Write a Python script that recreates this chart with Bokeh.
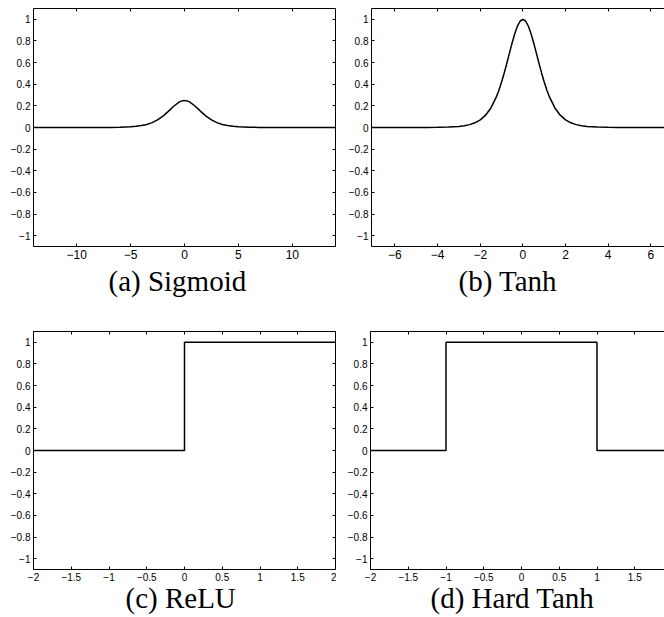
from bokeh.plotting import figure
from bokeh.models import LinearAxis, Range1d, FixedTicker, Title, CustomLabelingPolicy
from bokeh.layouts import column, row
from bokeh.embed import file_html
from bokeh.resources import INLINE

# ---------------- data ----------------
sig_x = [-14, -12, -10, -8, -7, -6, -5, -4.5, -4, -3.5, -3, -2.5, -2, -1.5, -1, -0.5, -0.25,
         0, 0.25, 0.5, 1, 1.5, 2, 2.5, 3, 3.5, 4, 4.5, 5, 6, 7, 8, 10, 12, 14]
sig_y = [0.0, 0.0, 0.0001, 0.0003, 0.0009, 0.0025, 0.0066, 0.0109, 0.0177, 0.0285, 0.0452, 0.0701,
         0.1050, 0.1491, 0.1966, 0.2350, 0.2461,
         0.25, 0.2461, 0.2350, 0.1966, 0.1491, 0.1050, 0.0701, 0.0452, 0.0285, 0.0177, 0.0109,
         0.0066, 0.0025, 0.0009, 0.0003, 0.0001, 0.0, 0.0]

tanh_x = [-7.1, -6, -5, -4.5, -4, -3.5, -3, -2.75, -2.5, -2.25, -2, -1.75, -1.5, -1.25, -1.125, -1,
          -0.875, -0.75, -0.625, -0.5, -0.375, -0.25, -0.125, 0,
          0.125, 0.25, 0.375, 0.5, 0.625, 0.75, 0.875, 1, 1.125, 1.25, 1.5, 1.75, 2, 2.25, 2.5,
          2.75, 3, 3.5, 4, 4.5, 5, 6, 7.1]
tanh_y = [0.0, 0.0, 0.0002, 0.0005, 0.0013, 0.0036, 0.0099, 0.0162, 0.0266, 0.0435, 0.0707, 0.1138,
          0.1807, 0.2804, 0.3445, 0.4200, 0.5045, 0.5966, 0.6924, 0.7864, 0.8716, 0.9400, 0.9845, 1.0,
          0.9845, 0.9400, 0.8716, 0.7864, 0.6924, 0.5966, 0.5045, 0.4200, 0.3445, 0.2804, 0.1807,
          0.1138, 0.0707, 0.0435, 0.0266, 0.0162, 0.0099, 0.0036, 0.0013, 0.0005, 0.0002, 0.0, 0.0]

relu_x = [-2, 0, 0, 2]
relu_y = [0, 0, 1, 1]

htanh_x = [-2, -1, -1, 1, 1, 2]
htanh_y = [0, 0, 1, 1, 0, 0]

y_ticks = [-1, -0.8, -0.6, -0.4, -0.2, 0, 0.2, 0.4, 0.6, 0.8, 1]
y_labels = ["\u22121", "\u22120.8", "\u22120.6", "\u22120.4", "\u22120.2", "0", "0.2", "0.4", "0.6", "0.8", "1"]

sig_ticks = [-10, -5, 0, 5, 10]
sig_labels = ["\u221210", "\u22125", "0", "5", "10"]

tanh_ticks = [-6, -4, -2, 0, 2, 4, 6]
tanh_labels = ["\u22126", "\u22124", "\u22122", "0", "2", "4", "6"]

step_ticks = [-2, -1.5, -1, -0.5, 0, 0.5, 1, 1.5, 2]
step_labels = ["\u22122", "\u22121.5", "\u22121", "\u22120.5", "0", "0.5", "1", "1.5", "2"]

captions = ["(a) Sigmoid", "(b) Tanh", "(c) ReLU", "(d) Hard Tanh"]

FONT = "Liberation Sans"
SERIF = "Liberation Serif"


def style_axis(ax, font_size, labels=True):
    ax.major_tick_in = 3
    ax.major_tick_out = 0
    ax.minor_tick_line_color = None
    ax.axis_line_color = "black"
    ax.axis_line_width = 1
    ax.major_tick_line_color = "black"
    if labels:
        ax.major_label_text_font = FONT
        ax.major_label_text_font_size = font_size
        ax.major_label_text_color = "black"
        ax.major_label_standoff = 3
    else:
        ax.major_label_text_font_size = "0px"
        ax.major_label_standoff = 0
        ax.major_label_policy = CustomLabelingPolicy(
            code="for (const i of indices) { if (false) { yield i } }")


def panel(xs, ys, xr, xt, xl, xfont, caption, width, height, mb_left, mb_right, mb_top,
          mb_bottom, right_axis, cap_standoff, cap_offset):
    p = figure(width=width, height=height, x_range=Range1d(*xr), y_range=Range1d(-1.1, 1.1),
               output_backend="svg", toolbar_location=None, title=None,
               x_axis_location=None, y_axis_location=None,
               min_border_left=mb_left, min_border_right=mb_right,
               min_border_top=mb_top, min_border_bottom=mb_bottom,
               outline_line_color=None, background_fill_color="white",
               border_fill_color="white")
    p.xgrid.grid_line_color = None
    p.ygrid.grid_line_color = None

    left = LinearAxis(ticker=FixedTicker(ticks=y_ticks),
                      major_label_overrides=dict(zip(y_ticks, y_labels)))
    style_axis(left, "10px")
    p.add_layout(left, "left")

    below = LinearAxis(ticker=FixedTicker(ticks=xt), major_label_overrides=dict(zip(xt, xl)))
    style_axis(below, xfont)
    p.add_layout(below, "below")

    above = LinearAxis(ticker=FixedTicker(ticks=xt))
    style_axis(above, "0px", labels=False)
    p.add_layout(above, "above")

    if right_axis:
        right = LinearAxis(ticker=FixedTicker(ticks=y_ticks))
        style_axis(right, "0px", labels=False)
        p.add_layout(right, "right")

    p.line(xs, ys, line_color="black", line_width=1.5)

    t = Title(text=caption, align="left", offset=cap_offset, text_font=SERIF,
              text_font_size="29px", text_font_style="normal", text_color="black",
              standoff=cap_standoff)
    p.add_layout(t, "below")
    return p


pa = panel(sig_x, sig_y, (-14, 14), sig_ticks, sig_labels, "12px", captions[0],
           336, 331, 33, 1, 8, 85, True, 2, 75)
pb = panel(tanh_x, tanh_y, (-7.1, 6.64), tanh_ticks, tanh_labels, "12px", captions[1],
           328, 331, 35, 0, 8, 85, False, 2, 87)
pc = panel(relu_x, relu_y, (-2, 2), step_ticks, step_labels, "10px", captions[2],
           336, 286, 33, 1, 0, 48, True, -8, 92)
pd = panel(htanh_x, htanh_y, (-2, 1.894), step_ticks, step_labels, "10px", captions[3],
           328, 286, 34, 0, 0, 48, False, -8, 60)

layout = column(row(pa, pb), row(pc, pd))

open("out.html", "w").write(file_html(layout, INLINE))
